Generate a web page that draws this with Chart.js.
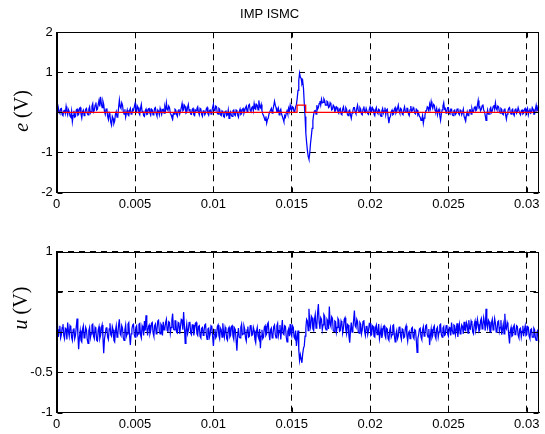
<!DOCTYPE html>
<html>
<head>
<meta charset="utf-8">
<script src="https://cdn.jsdelivr.net/npm/chart.js@4"></script>
<style>
  body { margin: 0; background: #fff; }
  canvas { position: absolute; left: 0; }
  #top { top: 0; }
  #bot { top: 217px; }
</style>
</head>
<body>
<canvas id="top" width="545" height="215"></canvas>
<canvas id="bot" width="545" height="217"></canvas>
<script>
// sample step of both traces (s)
const dt = 0.00005;

// tracking error e (V), one value every 0.05 ms
const eVals = [
  0.08, -0.04, 0.12, 0.02, -0.02, 0.09, 0.10, -0.06, -0.08, 0.04, 0.05, -0.03, 0.15, 0.03, -0.06, 0.07, 0.02, -0.09, -0.12, 0.03,
  -0.23, -0.08, 0.04, -0.12, -0.10, 0.06, 0.08, -0.07, -0.05, 0.10, 0.12, -0.04, -0.14, 0.02, 0.06, -0.08, -0.02, 0.08, 0.10, -0.03,
  -0.06, 0.08, 0.14, -0.02, 0.02, 0.16, 0.22, 0.01, 0.05, 0.18, 0.25, 0.06, 0.08, 0.20, 0.30, 0.15, 0.39, 0.22, 0.12, 0.28,
  0.20, 0.02, -0.05, 0.08, 0.10, -0.10, -0.18, -0.02, -0.08, -0.25, -0.32, -0.10, -0.15, -0.28, -0.22, -0.04, 0.02, -0.12, -0.10, 0.12,
  0.31, 0.14, 0.10, 0.24, 0.18, 0.02, -0.04, 0.08, -0.12, -0.02, 0.06, -0.06, -0.08, 0.05, 0.10, -0.04, -0.03, 0.08, 0.05, 0.14,
  0.22, 0.06, 0.02, 0.16, 0.12, -0.02, -0.06, 0.10, 0.20, 0.02, 0.04, -0.08, -0.10, 0.04, 0.08, -0.05, -0.04, 0.09, 0.10, -0.02,
  -0.07, 0.08, 0.06, -0.06, -0.02, 0.10, 0.12, -0.03, -0.09, 0.06, 0.03, -0.06, 0.10, 0.02, -0.05, 0.07, 0.08, -0.02, 0.14, 0.05,
  0.24, 0.08, 0.05, 0.16, 0.12, -0.02, -0.06, -0.12, -0.17, -0.02, -0.04, 0.08, 0.06, -0.05, -0.10, 0.04, 0.08, -0.04, 0.02, 0.12,
  0.22, 0.04, 0.06, 0.18, 0.15, -0.02, 0.00, 0.12, 0.20, 0.04, 0.08, -0.04, -0.05, 0.08, 0.10, -0.06, -0.08, 0.06, 0.04, 0.10,
  0.14, 0.00, -0.06, 0.10, 0.08, -0.05, -0.10, 0.04, 0.05, -0.06, -0.02, 0.09, 0.12, -0.03, -0.07, 0.05, 0.06, -0.04, 0.02, 0.12,
  0.20, 0.05, 0.04, 0.16, 0.14, -0.02, -0.04, 0.10, 0.08, -0.06, -0.08, 0.04, 0.02, -0.10, -0.12, 0.02, 0.05, -0.08, -0.06, 0.06,
  -0.15, -0.02, 0.02, -0.08, -0.10, 0.04, 0.06, -0.06, -0.08, 0.06, 0.04, -0.07, -0.12, 0.02, 0.08, -0.05, -0.03, 0.08, 0.10, -0.02,
  0.04, 0.12, 0.16, 0.02, 0.06, 0.18, 0.20, 0.05, 0.02, 0.12, 0.14, 0.04, 0.22, 0.10, 0.08, 0.20, 0.18, 0.06, 0.30, 0.16,
  0.12, 0.20, 0.04, -0.04, -0.08, -0.14, -0.20, -0.10, -0.27, -0.18, -0.14, -0.04, -0.04, 0.06, 0.10, -0.02, 0.06, 0.16, 0.28, 0.18,
  0.12, 0.02, 0.02, 0.10, -0.06, 0.04, 0.08, -0.04, -0.10, -0.16, -0.23, -0.08, -0.12, -0.02, 0.04, -0.04, 0.10, 0.02, 0.18, 0.08,
  0.06, 0.14, 0.12, 0.00, 0.04, 0.14, 0.20, 0.35, 0.55, 0.80, 0.98, 0.88, 0.85, 0.72, 0.78, 0.60, 0.23, -0.10, -0.52, -0.75,
  -0.95, -1.10, -1.17, -1.02, -0.77, -0.60, -0.40, -0.20, -0.05, 0.04, 0.05, -0.04, 0.18, 0.08, 0.12, 0.22, 0.28, 0.18, 0.33, 0.24,
  0.25, 0.34, 0.30, 0.18, 0.18, 0.28, 0.26, 0.12, 0.14, 0.24, 0.20, 0.06, 0.08, 0.18, 0.15, 0.02, 0.04, 0.14, 0.12, 0.02,
  -0.02, 0.08, 0.10, -0.04, -0.06, 0.08, 0.14, 0.02, 0.02, 0.12, 0.08, -0.04, -0.08, 0.04, 0.06, -0.06, -0.15, -0.02, 0.04, 0.12,
  0.12, 0.00, -0.04, 0.10, 0.18, 0.04, 0.02, 0.12, 0.08, -0.04, -0.06, 0.08, 0.15, 0.02, 0.00, 0.10, 0.10, -0.03, -0.05, 0.08,
  0.14, 0.02, 0.02, 0.12, 0.08, -0.04, -0.08, 0.06, 0.12, 0.00, -0.03, 0.08, 0.06, -0.06, -0.10, 0.04, 0.10, -0.02, 0.04, 0.12,
  -0.06, 0.06, 0.08, -0.12, -0.27, -0.14, -0.10, 0.02, 0.06, -0.06, -0.04, 0.08, 0.12, -0.02, 0.02, 0.10, 0.18, 0.04, -0.02, 0.10,
  0.08, -0.04, -0.06, 0.06, 0.14, 0.02, 0.00, 0.10, 0.10, -0.04, -0.08, 0.06, 0.16, 0.02, 0.04, 0.12, 0.08, -0.02, -0.04, 0.08,
  0.06, -0.06, -0.02, -0.10, -0.12, -0.20, -0.18, -0.08, -0.27, -0.14, -0.08, 0.04, 0.04, 0.14, 0.12, 0.02, 0.20, 0.10, 0.27, 0.16,
  0.10, 0.20, 0.18, 0.04, 0.02, 0.10, -0.06, 0.04, 0.08, -0.08, -0.20, -0.04, 0.06, 0.16, 0.24, 0.08, 0.10, -0.02, 0.04, 0.12,
  0.12, -0.02, -0.04, 0.08, 0.08, -0.06, -0.08, 0.04, 0.06, -0.05, -0.02, 0.08, 0.10, -0.03, -0.06, 0.06, 0.04, -0.06, 0.00, 0.08,
  -0.10, -0.16, -0.22, -0.06, 0.02, -0.08, -0.06, 0.06, 0.06, -0.04, 0.10, 0.02, 0.02, 0.12, 0.14, 0.04, 0.06, 0.18, 0.30, 0.12,
  0.14, 0.04, 0.08, 0.16, 0.20, 0.06, 0.02, -0.08, -0.20, -0.06, 0.06, -0.04, -0.04, 0.08, 0.12, 0.00, 0.04, 0.14, 0.18, 0.08,
  0.24, 0.10, 0.06, 0.16, 0.14, 0.02, -0.02, 0.10, 0.08, -0.04, -0.06, 0.06, 0.10, -0.06, -0.17, -0.04, 0.04, 0.10, 0.12, 0.00,
  -0.04, 0.06, 0.08, -0.04, -0.08, 0.06, 0.10, -0.02, 0.02, 0.12, 0.12, -0.02, -0.06, 0.04, 0.06, -0.04, -0.02, 0.08, 0.10, -0.02,
  0.04, 0.10, -0.06, 0.04, 0.10, -0.02, 0.00, 0.12, 0.08, -0.04, -0.04, 0.08, 0.18, 0.04, 0.06, 0.14, 0.12
];

// red reference trace (step), time / value
const refT = [0, 0.01534, 0.01534, 0.01589, 0.01589, 0.0308];
const refV = [0, 0, 0.18, 0.18, 0, 0];

// control signal u (V), one value every 0.05 ms
const uVals = [
  0.02, 0.09, -0.06, 0.03, 0.08, -0.07, -0.03, 0.06, 0.10, -0.04, -0.08, 0.05, 0.04, -0.09, 0.12, 0.01, -0.05, 0.08, 0.06, -0.06,
  -0.10, 0.03, 0.05, -0.08, -0.04, 0.07, 0.17, -0.02, -0.21, -0.06, 0.02, -0.10, -0.12, 0.04, 0.08, -0.07, -0.06, 0.06, 0.03, -0.09,
  -0.14, 0.02, 0.06, -0.07, -0.02, 0.09, 0.10, -0.05, -0.08, 0.06, 0.04, -0.10, -0.11, 0.03, 0.07, -0.08, -0.04, 0.05, 0.09, -0.06,
  -0.26, -0.08, -0.02, 0.05, 0.06, -0.06, -0.09, 0.04, 0.11, -0.03, -0.05, 0.07, 0.03, -0.10, -0.12, 0.02, 0.08, -0.06, -0.03, 0.09,
  0.16, -0.02, -0.04, 0.08, 0.05, -0.07, -0.10, 0.03, 0.09, -0.05, -0.02, 0.10, 0.12, -0.04, -0.16, -0.02, 0.04, 0.09, 0.10, -0.03,
  -0.06, 0.06, 0.08, -0.04, -0.02, 0.10, 0.11, -0.03, -0.07, 0.08, 0.05, -0.04, 0.14, 0.02, 0.21, 0.06, -0.04, 0.07, 0.09, -0.02,
  0.02, 0.11, 0.12, -0.01, -0.05, 0.08, 0.10, -0.02, 0.03, 0.14, 0.15, 0.01, -0.02, 0.10, 0.08, -0.04, 0.13, 0.03, 0.04, 0.12,
  0.16, 0.02, 0.01, 0.13, 0.12, -0.01, 0.06, 0.15, 0.23, 0.04, 0.03, 0.14, 0.14, 0.00, -0.01, 0.12, 0.11, -0.02, 0.07, 0.16,
  0.15, 0.03, 0.25, 0.08, -0.14, 0.02, 0.10, -0.02, 0.02, 0.12, 0.13, -0.01, -0.03, 0.09, 0.09, -0.04, 0.04, 0.11, 0.12, -0.02,
  -0.04, 0.07, 0.08, -0.05, -0.07, 0.05, 0.06, -0.04, 0.01, 0.09, 0.10, -0.03, -0.09, 0.04, 0.05, -0.06, -0.02, 0.08, 0.07, -0.05,
  -0.17, -0.03, 0.04, -0.07, -0.05, 0.07, 0.09, -0.04, -0.08, 0.05, 0.03, -0.06, 0.11, 0.00, -0.06, 0.06, 0.02, -0.08, -0.10, 0.04,
  0.06, -0.06, -0.04, 0.07, 0.08, -0.05, -0.09, 0.05, 0.03, -0.10, -0.23, -0.04, 0.05, -0.06, -0.07, 0.06, 0.10, -0.03, -0.02, 0.08,
  0.04, -0.07, -0.11, 0.03, 0.07, -0.06, -0.05, 0.08, 0.09, -0.04, -0.03, 0.06, 0.02, -0.09, -0.13, 0.01, 0.06, -0.05, -0.08, 0.04,
  -0.20, -0.05, 0.03, -0.08, -0.06, 0.06, 0.08, -0.04, -0.02, 0.10, 0.12, -0.02, -0.10, 0.03, 0.05, -0.07, -0.04, 0.07, 0.09, -0.03,
  -0.07, 0.08, 0.11, -0.04, 0.02, 0.09, -0.09, 0.03, 0.15, -0.02, -0.03, 0.08, 0.07, -0.06, -0.12, 0.01, 0.04, -0.05, 0.10, -0.02,
  -0.05, 0.08, 0.06, -0.06, -0.08, 0.02, -0.17, -0.06, 0.02, -0.22, -0.35, -0.28, -0.33, -0.38, -0.27, -0.20, -0.17, -0.05, 0.05, 0.16,
  0.14, 0.02, 0.29, 0.10, 0.06, 0.20, 0.18, 0.04, 0.02, 0.16, 0.22, 0.05, 0.08, 0.24, 0.35, 0.12, 0.04, 0.18, 0.16, 0.03,
  0.09, 0.22, 0.20, 0.05, 0.03, 0.16, 0.14, 0.04, 0.32, 0.10, 0.07, 0.19, 0.17, 0.02, 0.01, 0.14, 0.13, 0.00, 0.06, 0.17,
  0.15, 0.01, 0.02, 0.14, 0.11, -0.01, 0.05, 0.16, 0.18, 0.03, -0.02, 0.10, 0.09, -0.05, -0.13, 0.02, 0.12, 0.00, 0.04, 0.15,
  0.27, 0.08, 0.06, 0.16, 0.13, 0.00, -0.01, 0.12, 0.10, -0.02, 0.03, 0.13, 0.15, 0.01, -0.04, 0.07, 0.08, -0.03, 0.02, 0.11,
  0.11, -0.04, -0.03, 0.08, 0.07, -0.05, -0.06, 0.06, 0.09, -0.03, 0.01, 0.10, -0.08, -0.02, 0.05, -0.07, -0.02, 0.07, 0.08, -0.04,
  -0.07, 0.05, 0.04, -0.08, -0.10, 0.02, 0.06, -0.06, -0.03, 0.08, 0.09, -0.04, -0.12, -0.02, 0.02, -0.08, -0.05, 0.06, 0.07, -0.05,
  -0.09, 0.04, 0.03, -0.07, -0.06, 0.05, 0.08, -0.04, -0.11, -0.01, 0.01, -0.08, -0.04, 0.05, 0.06, -0.06, -0.08, 0.03, 0.02, -0.10,
  -0.25, -0.08, -0.03, 0.04, 0.05, -0.06, -0.09, 0.03, 0.07, -0.05, -0.02, 0.08, 0.09, -0.03, -0.06, 0.04, -0.16, -0.04, 0.04, -0.07,
  -0.04, 0.06, 0.08, -0.05, -0.08, 0.04, 0.06, -0.06, 0.00, 0.09, 0.10, -0.03, -0.06, 0.05, 0.07, -0.04, -0.03, 0.08, 0.09, -0.02,
  -0.05, 0.06, 0.05, -0.04, 0.12, 0.02, -0.02, 0.09, 0.08, -0.03, 0.03, 0.11, -0.06, 0.04, 0.10, -0.02, 0.01, 0.09, 0.07, -0.02,
  0.13, 0.03, 0.02, 0.12, 0.09, -0.01, 0.15, 0.05, 0.04, 0.14, 0.11, 0.00, -0.02, 0.10, 0.14, 0.02, 0.06, 0.16, 0.10, 0.01,
  0.03, 0.14, 0.17, 0.04, 0.08, 0.18, 0.12, 0.02, 0.29, 0.09, 0.05, 0.15, 0.13, 0.01, 0.00, 0.12, 0.16, 0.03, 0.07, 0.17,
  0.11, 0.00, 0.02, 0.13, 0.14, 0.01, 0.06, 0.15, -0.03, 0.04, 0.10, -0.02, 0.23, 0.06, 0.04, 0.12, 0.08, -0.04, -0.14, 0.02,
  0.06, -0.05, -0.04, 0.07, 0.09, -0.03, -0.02, 0.08, 0.07, -0.04, -0.07, 0.04, 0.05, -0.06, 0.01, 0.08, -0.05, 0.03, 0.08, -0.04,
  -0.03, 0.07, 0.06, -0.05, -0.08, 0.03, 0.04, -0.06, -0.06, 0.05, 0.03, -0.07, -0.10, 0.00, 0.02, -0.08, -0.13
];

// axis ticks and which of them carry a label
const xTicks = [0, 0.005, 0.01, 0.015, 0.02, 0.025, 0.03];
const eTicks = [-2, -1, 0, 1, 2];
const eLabels = ["-2", "-1", "", "1", "2"];
const uTicks = [-1, -0.5, 0, 0.5, 1];
const uLabels = ["-1", "-0.5", "", "", "1"];

const tickFont = { family: "'Liberation Sans', Arial, sans-serif", size: 13 };

// box around the plot, small inner tick marks and the y label
const frame = {
  id: "frame",
  afterDatasetsDraw(chart, args, opts) {
    const { ctx, chartArea: a, scales } = chart;
    const l = Math.round(a.left) + 0.5, r = Math.round(a.right) - 0.5;
    const t = Math.round(a.top) + 0.5, b = Math.round(a.bottom) - 0.5;
    ctx.save();
    ctx.strokeStyle = "#000";
    ctx.lineWidth = 1;
    ctx.strokeRect(l, t, r - l, b - t);
    ctx.beginPath();
    scales.x.ticks.forEach(tk => {
      const x = Math.round(scales.x.getPixelForValue(tk.value)) + 0.5;
      ctx.moveTo(x, b); ctx.lineTo(x, b - 5);
      ctx.moveTo(x, t); ctx.lineTo(x, t + 5);
    });
    scales.y.ticks.forEach(tk => {
      const y = Math.round(scales.y.getPixelForValue(tk.value)) + 0.5;
      ctx.moveTo(l, y); ctx.lineTo(l + 5, y);
      ctx.moveTo(r, y); ctx.lineTo(r - 5, y);
    });
    ctx.stroke();

    ctx.translate(opts.x, opts.y);
    ctx.rotate(-Math.PI / 2);
    ctx.fillStyle = "#000";
    ctx.textBaseline = "middle";
    ctx.textAlign = "left";
    const it = "italic 20px 'Liberation Serif', 'Times New Roman', serif";
    const rm = "20px 'Liberation Serif', 'Times New Roman', serif";
    ctx.font = it;
    const w1 = ctx.measureText(opts.sym).width;
    ctx.font = rm;
    const w2 = ctx.measureText(" (V)").width;
    const x0 = -(w1 + w2) / 2;
    ctx.font = it;
    ctx.fillText(opts.sym, x0, 0);
    ctx.font = rm;
    ctx.fillText(" (V)", x0 + w1, 0);
    ctx.restore();
  }
};

function pts(xs, ys) {
  return ys.map((y, i) => ({ x: xs[i], y: y }));
}
const times = eVals.map((v, i) => i * dt);

function xAxis(h) {
  return {
    type: "linear",
    min: 0,
    max: 0.0308,
    afterFit: s => { s.height = h; },
    afterBuildTicks: s => { s.ticks = xTicks.map(v => ({ value: v })); },
    ticks: {
      color: "#000",
      font: tickFont,
      padding: 4,
      maxRotation: 0,
      callback: v => String(+v.toFixed(4))
    },
    grid: { color: "#000", lineWidth: 1, drawTicks: false },
    border: { color: "#000", width: 1, dash: [6, 5] }
  };
}

function yAxis(min, max, tks, labels) {
  return {
    min: min,
    max: max,
    afterFit: s => { s.width = 56.7; },
    afterBuildTicks: s => { s.ticks = tks.map(v => ({ value: v })); },
    ticks: {
      color: "#000",
      font: tickFont,
      padding: 4,
      callback: v => labels[tks.indexOf(v)]
    },
    grid: { color: "#000", lineWidth: 1, drawTicks: false },
    border: { color: "#000", width: 1, dash: [6, 5] }
  };
}

new Chart(document.getElementById("top"), {
  type: "line",
  data: {
    datasets: [
      {
        data: pts(refT, refV),
        borderColor: "#ff0000",
        borderWidth: 1.3,
        pointRadius: 0,
        tension: 0
      },
      {
        data: pts(times, eVals),
        borderColor: "#0000ff",
        borderWidth: 1.25,
        pointRadius: 0,
        tension: 0
      }
    ]
  },
  options: {
    responsive: false,
    animation: false,
    layout: { padding: { left: 0, right: 5.7, top: 0, bottom: 0 } },
    plugins: {
      legend: { display: false },
      tooltip: { enabled: false },
      title: {
        display: true,
        text: "IMP ISMC",
        color: "#000",
        font: { family: "'Liberation Sans', Arial, sans-serif", size: 13, weight: "normal" },
        padding: { top: 7, bottom: 9.7 }
      },
      frame: { sym: "e", x: 22.5, y: 111 }
    },
    scales: {
      x: xAxis(22.5),
      y: yAxis(-2, 2, eTicks, eLabels)
    }
  },
  plugins: [frame]
});

new Chart(document.getElementById("bot"), {
  type: "line",
  data: {
    datasets: [
      {
        data: pts(times, uVals),
        borderColor: "#0000ff",
        borderWidth: 1.25,
        pointRadius: 0,
        tension: 0
      }
    ]
  },
  options: {
    responsive: false,
    animation: false,
    layout: { padding: { left: 0, right: 5.7, top: 34.7, bottom: 0 } },
    plugins: {
      legend: { display: false },
      tooltip: { enabled: false },
      frame: { sym: "u", x: 21.7, y: 91 }
    },
    scales: {
      x: xAxis(21.3),
      y: yAxis(-1, 1, uTicks, uLabels)
    }
  },
  plugins: [frame]
});
</script>
</body>
</html>
